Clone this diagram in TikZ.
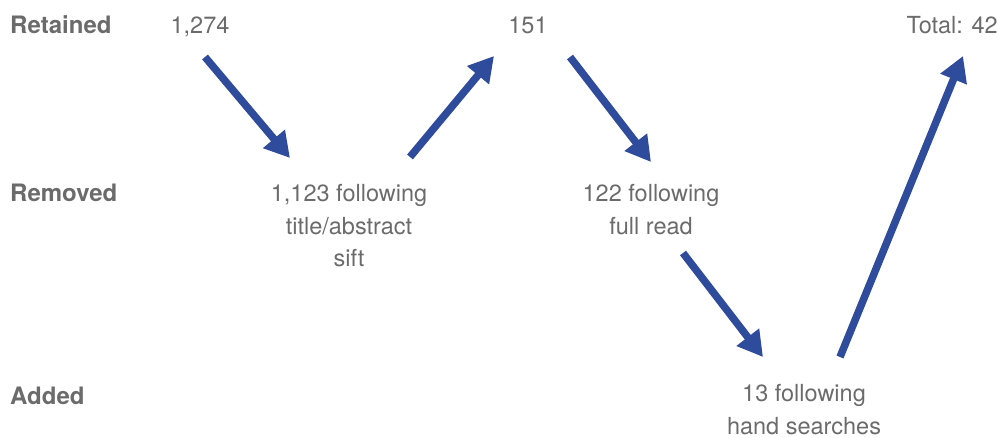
\documentclass[tikz,border=0pt]{standalone}
\usepackage{fontspec}
\setmainfont{TeX Gyre Heros}
\usetikzlibrary{arrows.meta}
\definecolor{txtgray}{HTML}{6B6B6B}
\definecolor{arrowblue}{HTML}{2F4B9C}
\tikzset{
  lbl/.style={anchor=base, inner sep=0pt, text=txtgray, align=center,
    font=\fontsize{23.5}{32.5}\selectfont},
  rowlbl/.style={lbl, anchor=base west, font=\fontsize{24}{32.5}\selectfont\bfseries},
  flow/.style={draw=arrowblue, line width=7.5pt, -{Triangle[length=25pt,width=27pt]}}
}
\begin{document}
\begin{tikzpicture}[x=1pt, y=-1pt]
\useasboundingbox (0,0) rectangle (998,438);

\node[rowlbl] (ret) at (10,34) {Retained};
\node[rowlbl] (rem) at (10,202) {Removed};
\node[rowlbl] (add) at (10,404) {Added};

\node[lbl] (n1274) at (200,34) {1,274};
\node[lbl] (n151) at (528,34) {151};
\node[lbl, anchor=base east] (total) at (998,34) {Total: 42};

\node[lbl] (sift) at (349,267) {1,123 following\\title/abstract\\sift};
\node[lbl] (fullread) at (651,234.5) {122 following\\full read};
\node[lbl] (hand) at (804,434) {13 following\\hand searches};

\draw[flow] ([shift={(5,23)}]n1274.base) -- ([shift={(-59,-109)}]sift.base);
\draw[flow] ([shift={(61,-110)}]sift.base) -- ([shift={(-34,22)}]n151.base);
\draw[flow] ([shift={(42,23)}]n151.base) -- ([shift={(0,-72.5)}]fullread.base);
\draw[flow] ([shift={(32,18.5)}]fullread.base) -- ([shift={(-41,-77)}]hand.base);
\draw[flow] ([shift={(36,-77)}]hand.base) -- ([shift={(-35,22)}]total.base east);

\end{tikzpicture}
\end{document}
